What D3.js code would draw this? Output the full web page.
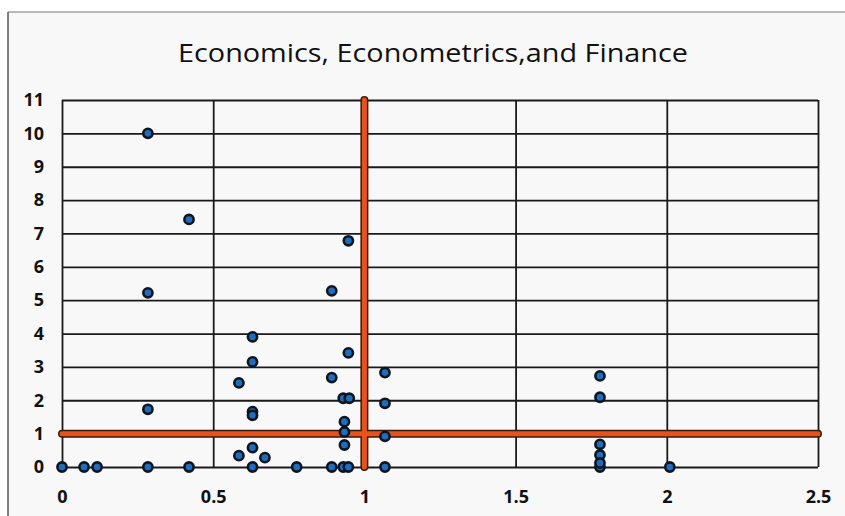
<!DOCTYPE html>
<html><head><meta charset="utf-8">
<script src="https://cdn.jsdelivr.net/npm/d3@7"></script>
<style>body{margin:0;background:#fff;}svg{display:block;}</style>
</head><body>
<svg id="c" width="845" height="516"></svg>
<script>
const title = "Economics, Econometrics,and Finance";
const xTicks = [0, 0.5, 1, 1.5, 2, 2.5];
const xTickLabels = ["0", "0.5", "1", "1.5", "2", "2.5"];
const yTicks = [0,1,2,3,4,5,6,7,8,9,10,11];
const xValues = [0,0.073,0.116,0.284,0.42,0.63,0.776,0.892,0.93,0.947,1.068,1.779,2.01,
  0.284,0.284,0.284,0.42,
  0.63,0.63,0.63,0.63,0.63,0.585,0.585,0.671,
  0.947,0.892,0.947,0.892,0.93,0.95,0.934,0.934,0.934,
  1.068,1.068,1.068,
  1.779,1.779,1.779,1.779,1.779];
const yValues = [0,0,0,0,0,0,0,0,0,0,0,0,0,
  10,5.22,1.73,7.42,
  3.9,3.15,1.66,1.55,0.58,2.52,0.34,0.28,
  6.78,5.28,3.42,2.68,2.06,2.06,1.36,0.66,1.05,
  2.83,1.91,0.92,
  2.73,2.09,0.68,0.36,0.12];
const refX = 1, refY = 1;

const svg = d3.select("#c");
svg.append("rect").attr("x",8).attr("y",12).attr("width",845).attr("height",516).attr("fill","#f8f8f8");
svg.append("line").attr("x1",8).attr("x2",845).attr("y1",12).attr("y2",12).attr("stroke","#777").attr("stroke-width",1);
svg.append("line").attr("x1",8).attr("x2",8).attr("y1",12).attr("y2",516).attr("stroke","#555").attr("stroke-width",1.5);

const L = 62, R = 818, T = 100, B = 467;
const x = d3.scaleLinear().domain([0,2.5]).range([L,R]);
const y = d3.scaleLinear().domain([0,11]).range([B,T]);

svg.append("text").attr("x", 433).attr("y", 62).attr("text-anchor","middle")
  .style("font-family","'Open Sans',sans-serif").style("font-size","26px")
  .attr("textLength",510).attr("lengthAdjust","spacingAndGlyphs")
  .attr("fill","#111").text(title);

const gy = svg.append("g").attr("transform",`translate(${L},0)`)
  .call(d3.axisLeft(y).tickValues(yTicks).tickSize(-(R-L)).tickFormat(d3.format("d")).tickPadding(18));
gy.select(".domain").remove();
gy.selectAll(".tick line").attr("stroke","#1a1a1a").attr("stroke-width",1.8);
gy.selectAll(".tick text").style("font-family","'Open Sans',sans-serif").style("font-weight","bold")
  .style("font-size","18px").attr("fill","#111");

const gx = svg.append("g").attr("transform",`translate(0,${B})`)
  .call(d3.axisBottom(x).tickValues(xTicks).tickSize(-(B-T)).tickFormat((d,i)=>xTickLabels[i]).tickPadding(23));
gx.select(".domain").remove();
gx.selectAll(".tick line").attr("stroke","#1a1a1a").attr("stroke-width",1.8);
gx.selectAll(".tick text").style("font-family","'Open Sans',sans-serif").style("font-weight","bold")
  .style("font-size","18px").attr("fill","#111");

const refs = [
  {x1:x(0), x2:x(2.5), y1:y(refY), y2:y(refY)},
  {x1:x(refX), x2:x(refX), y1:y(0), y2:y(11)}
];
svg.selectAll("line.refo").data(refs).enter().append("line").attr("class","refo")
  .attr("x1",d=>d.x1).attr("x2",d=>d.x2).attr("y1",d=>d.y1).attr("y2",d=>d.y2)
  .attr("stroke","#3a1a0a").attr("stroke-width",8).attr("stroke-linecap","round");
svg.selectAll("line.refi").data(refs).enter().append("line").attr("class","refi")
  .attr("x1",d=>d.x1).attr("x2",d=>d.x2).attr("y1",d=>d.y1).attr("y2",d=>d.y2)
  .attr("stroke","#e8521c").attr("stroke-width",5).attr("stroke-linecap","round");

const pts = xValues.map((v,i)=>({x:v,y:yValues[i]}));
svg.append("g").selectAll("circle").data(pts).enter().append("circle")
  .attr("cx",d=>x(d.x)).attr("cy",d=>y(d.y)).attr("r",4.6)
  .attr("fill","#1f6dbd").attr("stroke","#0d1620").attr("stroke-width",2.6);
</script>
</body></html>
